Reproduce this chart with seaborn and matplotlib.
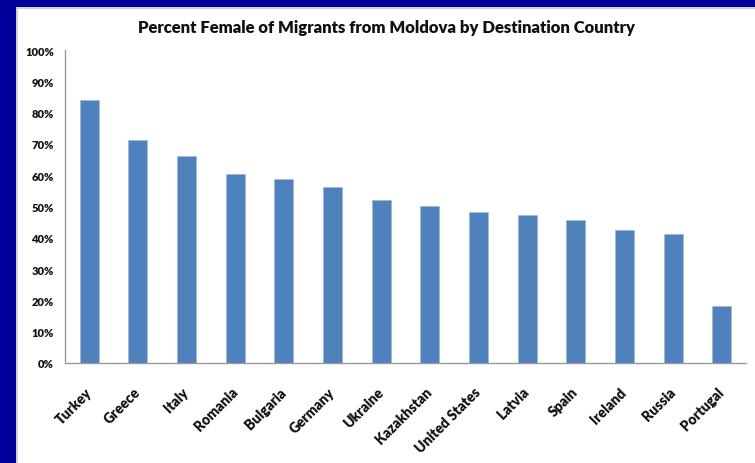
import matplotlib
matplotlib.use("Agg")
import matplotlib.pyplot as plt
import matplotlib.patches as mpatches
from matplotlib.ticker import PercentFormatter
import seaborn as sns
import pandas as pd

countries = ["Turkey", "Greece", "Italy", "Romania", "Bulgaria", "Germany", "Ukraine",
             "Kazakhstan", "United States", "Latvia", "Spain", "Ireland", "Russia", "Portugal"]
pct_female = [84.1, 71.2, 66.2, 60.3, 58.8, 56.2, 52.1, 50.2, 48.2, 47.3, 45.7, 42.5, 41.2, 18.2]
y_ticks = [0, 10, 20, 30, 40, 50, 60, 70, 80, 90, 100]

df = pd.DataFrame({"country": countries, "pct": pct_female})

sns.set_theme(style="white")
plt.rcParams["font.family"] = ["Lato", "DejaVu Sans"]

fig = plt.figure(figsize=(7.55, 4.64), dpi=100)
fig.patch.set_facecolor("white")

# navy frame along top and left edges
W, H = 755, 464
fig.patches.append(mpatches.Rectangle((0, 1 - 8 / H), 1, 8 / H, transform=fig.transFigure,
                                      facecolor="#000099", edgecolor="none", zorder=0))
fig.patches.append(mpatches.Rectangle((0, 0), 16 / W, 1, transform=fig.transFigure,
                                      facecolor="#000099", edgecolor="none", zorder=0))
fig.lines.append(plt.Line2D([16.5 / W, 1], [1 - 9 / H, 1 - 9 / H], transform=fig.transFigure,
                            color="#c8c8c8", lw=1.2))
fig.lines.append(plt.Line2D([16.5 / W, 16.5 / W], [0, 1 - 9 / H], transform=fig.transFigure,
                            color="#c8c8c8", lw=1.2))

ax = fig.add_axes([65 / W, (H - 364) / H, (746 - 65) / W, (364 - 51) / H])
sns.barplot(data=df, x="country", y="pct", color="#4F81BD", saturation=1, width=0.39,
            edgecolor="#9db8dc", linewidth=0.6, ax=ax)

ax.set_xlim(-0.5, len(countries) - 0.5)
ax.set_ylim(0, 100)
ax.set_yticks(y_ticks)
ax.yaxis.set_major_formatter(PercentFormatter(decimals=0))
ax.set_xlabel("")
ax.set_ylabel("")
for s in ["top", "right"]:
    ax.spines[s].set_visible(False)
for s in ["left", "bottom"]:
    ax.spines[s].set_color("#999999")
    ax.spines[s].set_linewidth(1)
ax.tick_params(axis="y", length=0, pad=8, labelsize=8, labelcolor="#111111")
ax.tick_params(axis="x", length=0, pad=19, labelsize=10, labelcolor="#111111")
for lbl in ax.get_yticklabels():
    lbl.set_fontweight("heavy")
for lbl in ax.get_xticklabels():
    lbl.set_fontweight("heavy")
    lbl.set_rotation(45)
    lbl.set_ha("right")
    lbl.set_va("center")
    lbl.set_rotation_mode("anchor")

fig.text(386 / W, 1 - 28 / H, "Percent Female of Migrants from Moldova by Destination Country",
         ha="center", va="center", fontsize=12, fontweight="heavy", color="#111111")

fig.savefig("out.png", dpi=100)
